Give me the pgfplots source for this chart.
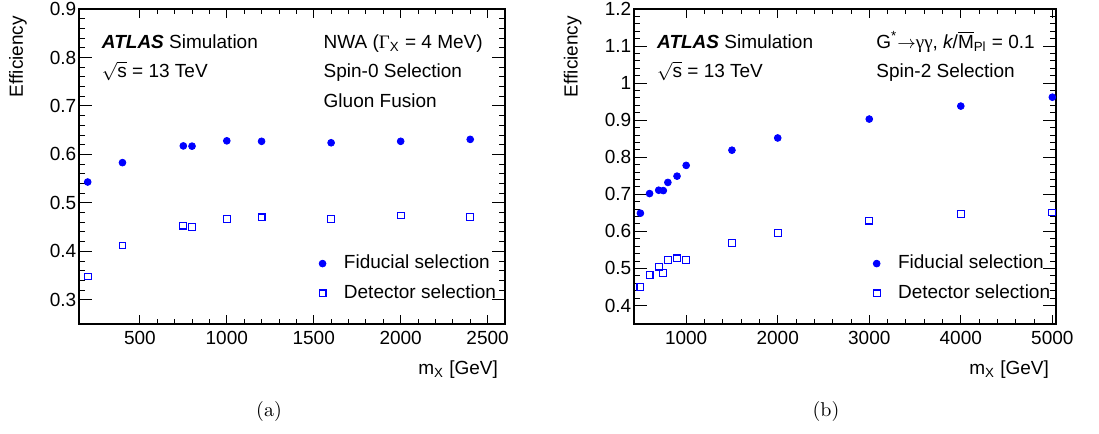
\documentclass[border=0pt]{standalone}
\usepackage{fontspec}
\usepackage{pgfplots}
\pgfplotsset{compat=1.18}
\newfontfamily\hv{Liberation Sans}
\newfontfamily\hvs{Liberation Serif}
\newcommand\lab{\hv\fontsize{9.5}{11.4}\selectfont}
\definecolor{rootblue}{RGB}{0,0,255}

\pgfplotstableread{
m eff
200 0.543
400 0.583
750 0.6175
800 0.617
1000 0.628
1200 0.627
1600 0.624
2000 0.627
2400 0.631
}\fidA
\pgfplotstableread{
m eff
200 0.348
400 0.412
750 0.453
800 0.4505
1000 0.466
1200 0.470
1600 0.467
2000 0.474
2400 0.471
}\detA
\pgfplotstableread{
m eff
500 0.649
600 0.702
700 0.711
750 0.710
800 0.732
900 0.749
1000 0.778
1500 0.819
2000 0.852
3000 0.903
4000 0.938
5000 0.962
}\fidB
\pgfplotstableread{
m eff
500 0.449
600 0.483
700 0.505
750 0.488
800 0.5225
900 0.527
1000 0.522
1500 0.5685
2000 0.596
3000 0.629
4000 0.646
5000 0.651
}\detB

\pgfplotsset{
  atlas/.style={
    scale only axis, height=157.5pt,
    axis line style={line width=0.6pt},
    every tick/.style={line width=0.45pt, black},
    minor x tick num=4, minor y tick num=4,
    xtick style={/pgfplots/major tick length=4.5pt,/pgfplots/minor tick length=2.3pt},
    ytick style={/pgfplots/major tick length=6.3pt,/pgfplots/minor tick length=3.2pt},
    tick label style={font=\lab},
    yticklabel style={inner sep=1.2pt},
    /pgf/number format/assume math mode=true,
    /pgf/number format/1000 sep={},
    scaled ticks=false,
    every axis x label/.style={at={(rel axis cs:1,0)},anchor=north east,yshift=-15pt,font=\lab},
    every axis y label/.style={at={(rel axis cs:-0.143,1)},anchor=east,rotate=90,font=\lab},
    xlabel={m\textsubscript{X} [GeV]}, ylabel={Efficiency},
    legend style={draw=none, fill=none, font=\lab, row sep=2.5pt, legend cell align=left,
      anchor=south west},
    legend image code/.code={\path (-4pt,0pt) (8.5pt,0pt); \draw[##1] plot coordinates {(0pt,0pt)};},
    fid/.style={only marks, mark=*, mark size=1.7pt, color=rootblue},
    det/.style={only marks, mark=square, mark size=1.7pt, color=rootblue, mark options={line width=0.55pt}},
  }
}

\begin{document}
\begin{tikzpicture}
\path[use as bounding box] (0,0) rectangle (549.5pt,217pt);
\begin{axis}[atlas, at={(39.5pt,55pt)}, anchor=south west, width=213pt,
  xmin=150, xmax=2600, ymin=0.25, ymax=0.9,
  xtick={500,1000,1500,2000,2500},
  ytick={0.3,0.4,0.5,0.6,0.7,0.8,0.9},
  legend style={at={(rel axis cs:0.537,0.044)}}]
\addplot[fid] table[x=m,y=eff] {\fidA};
\addlegendentry{Fiducial selection}
\addplot[det] table[x=m,y=eff] {\detA};
\addlegendentry{Detector selection}
\node[anchor=base west, inner sep=0pt, font=\lab] at (rel axis cs:0.053,0.875) {{\bfseries\itshape ATLAS} Simulation};
\node[anchor=base west, inner sep=0pt, font=\lab] at (rel axis cs:0.053,0.783) {$\sqrt{\mbox{s}}$ = 13 TeV};
\node[anchor=base west, inner sep=0pt, font=\lab] at (rel axis cs:0.5735,0.875) {NWA ({\hvs Γ}\textsubscript{X} = 4 MeV)};
\node[anchor=base west, inner sep=0pt, font=\lab] at (rel axis cs:0.5735,0.783) {Spin-0 Selection};
\node[anchor=base west, inner sep=0pt, font=\lab] at (rel axis cs:0.5735,0.688) {Gluon Fusion};
\end{axis}
\begin{axis}[atlas, at={(317pt,55pt)}, anchor=south west, width=211pt,
  xmin=430, xmax=5040, ymin=0.35, ymax=1.2,
  xtick={1000,2000,3000,4000,5000},
  ytick={0.4,0.5,0.6,0.7,0.8,0.9,1,1.1,1.2},
  every axis y label/.append style={at={(rel axis cs:-0.145,1)}},
  legend style={at={(rel axis cs:0.540,0.044)}}]
\addplot[fid] table[x=m,y=eff] {\fidB};
\addlegendentry{Fiducial selection}
\addplot[det] table[x=m,y=eff] {\detB};
\addlegendentry{Detector selection}
\node[anchor=base west, inner sep=0pt, font=\lab] at (rel axis cs:0.054,0.875) {{\bfseries\itshape ATLAS} Simulation};
\node[anchor=base west, inner sep=0pt, font=\lab] at (rel axis cs:0.054,0.783) {$\sqrt{\mbox{s}}$ = 13 TeV};
\node[anchor=base west, inner sep=0pt, font=\lab] at (rel axis cs:0.5735,0.875) {G\textsuperscript{*}$\rightarrow${\hvs γγ}, {\itshape k}/$\overline{\mbox{M}}$\textsubscript{Pl} = 0.1};
\node[anchor=base west, inner sep=0pt, font=\lab] at (rel axis cs:0.5735,0.783) {Spin-2 Selection};
\end{axis}
\node[font=\fontsize{10}{12}\selectfont] at (134.5pt,11pt) {(a)};
\node[font=\fontsize{10}{12}\selectfont] at (413pt,11pt) {(b)};
\end{tikzpicture}
\end{document}
